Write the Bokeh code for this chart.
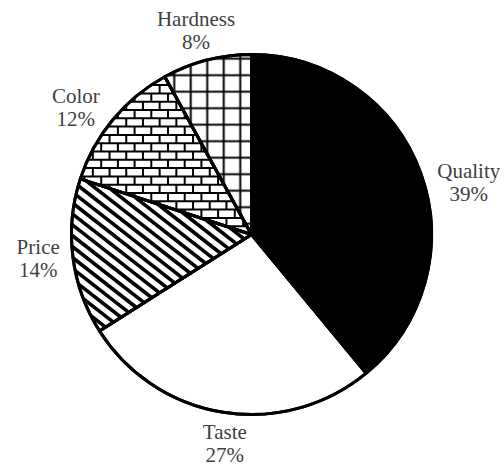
import numpy as np
from bokeh.plotting import figure
from bokeh.models import Range1d, ColumnDataSource
from bokeh.core.properties import value
from bokeh.embed import file_html
from bokeh.resources import INLINE

# ---- data ----
categories = ["Quality", "Taste", "Price", "Color", "Hardness"]
shares = [39, 27, 14, 12, 8]
pct_labels = ["39%", "27%", "14%", "12%", "8%"]

# ---- styles ----
fills = ["black", "white", "white", "white", "white"]
hatches = [" ", " ", " ", " ", "cross"]
hatch_scales = [12, 12, 12, 12, 16.5]
hatch_weights = [1, 1, 1, 1, 2]
stripe_slice = "Price"
brick_slice = "Color"
label_nudge = [(15, 21), (7, -3), (0, -3), (-10, 10), (-2, 4)]  # screen px

W, H = 504, 466
p = figure(width=W, height=H, x_range=Range1d(0, W), y_range=Range1d(0, H),
           output_backend="svg", toolbar_location=None, min_border=0)
p.axis.visible = False
p.grid.visible = False
p.outline_line_color = None
p.background_fill_color = "white"

cx, cy, R = 251, H - 234, 180
total = sum(shares)
cum = np.cumsum([0] + shares) / total
start = np.pi / 2 - 2 * np.pi * cum[1:]
end = np.pi / 2 - 2 * np.pi * cum[:-1]

src = ColumnDataSource(dict(cat=categories, start=start, end=end, fill=fills,
                            hatch=hatches, hs=hatch_scales, hw=hatch_weights))
p.wedge(x=cx, y=cy, radius=R, start_angle="start", end_angle="end", source=src,
        fill_color="fill", hatch_pattern="hatch", hatch_scale="hs", hatch_weight="hw",
        hatch_color="black", line_color="black", line_width=3, line_join="round")


def sector(name):
    i = categories.index(name)
    a0 = np.mod(start[i], 2 * np.pi)
    a1 = np.mod(end[i], 2 * np.pi)
    if a1 < a0:
        a0, a1 = a1, a0
    return a0, a1


def inside(x, y, a0, a1):
    dx, dy = x - cx, y - cy
    rr = np.hypot(dx, dy)
    ang = np.mod(np.arctan2(dy, dx), 2 * np.pi)
    return (rr <= R) & (ang >= a0) & (ang <= a1)


# diagonal stripes for the Price slice
a0, a1 = sector(stripe_slice)
th = np.deg2rad(38)
d = np.array([np.cos(th), -np.sin(th)])
n = np.array([np.sin(th), np.cos(th)])
gap = 8.6
s = np.linspace(-R, R, 5000)
sx0, sy0, sx1, sy1 = [], [], [], []
for t in np.arange(-R, R, gap):
    px = cx + t * n[0] + s * d[0]
    py = cy + t * n[1] + s * d[1]
    m = inside(px, py, a0, a1)
    if m.any():
        idx = np.where(m)[0]
        sx0.append(px[idx[0]]); sy0.append(py[idx[0]])
        sx1.append(px[idx[-1]]); sy1.append(py[idx[-1]])
p.segment(x0=sx0, y0=sy0, x1=sx1, y1=sy1, line_color="black", line_width=3.6)

# brick pattern for the Color slice
a0, a1 = sector(brick_slice)
bh, bw = 8.3, 16.7
x0s, y0s, x1s, y1s = [], [], [], []
xs = np.linspace(cx - R, cx + R, 6000)
for k in range(-25, 25):
    y = cy + k * bh
    m = inside(xs, np.full_like(xs, y), a0, a1)
    if m.any():
        x0s.append(xs[m].min()); x1s.append(xs[m].max()); y0s.append(y); y1s.append(y)
    yy = np.linspace(y, y + bh, 200)
    for j in range(-20, 20):
        x = cx + (j + 0.5 * (k % 2)) * bw
        m = inside(np.full_like(yy, x), yy, a0, a1)
        if m.any():
            x0s.append(x); x1s.append(x); y0s.append(yy[m].min()); y1s.append(yy[m].max())
p.segment(x0=x0s, y0=y0s, x1=x1s, y1=y1s, line_color="black", line_width=2)

# outlines on top
p.wedge(x=cx, y=cy, radius=R, start_angle="start", end_angle="end", source=src,
        fill_color=None, line_color="black", line_width=3, line_join="round")

# labels
mid = (start + end) / 2
LR = 215
lx, ly_name, ly_pct = [], [], []
for m_, (ndx, ndy) in zip(mid, label_nudge):
    sx = cx + LR * np.cos(m_) + ndx
    sy = (H - cy) - LR * np.sin(m_) + ndy  # screen y
    lx.append(sx)
    ly_name.append(H - (sy - 11.5))
    ly_pct.append(H - (sy + 11.5))
for ys_, txt in ((ly_name, categories), (ly_pct, pct_labels)):
    p.text(x=lx, y=ys_, text=txt, text_align="center", text_baseline="middle",
           text_font=value("Liberation Serif"), text_font_size="21px", text_color="#404040")

open("out.html", "w").write(file_html(p, INLINE))
